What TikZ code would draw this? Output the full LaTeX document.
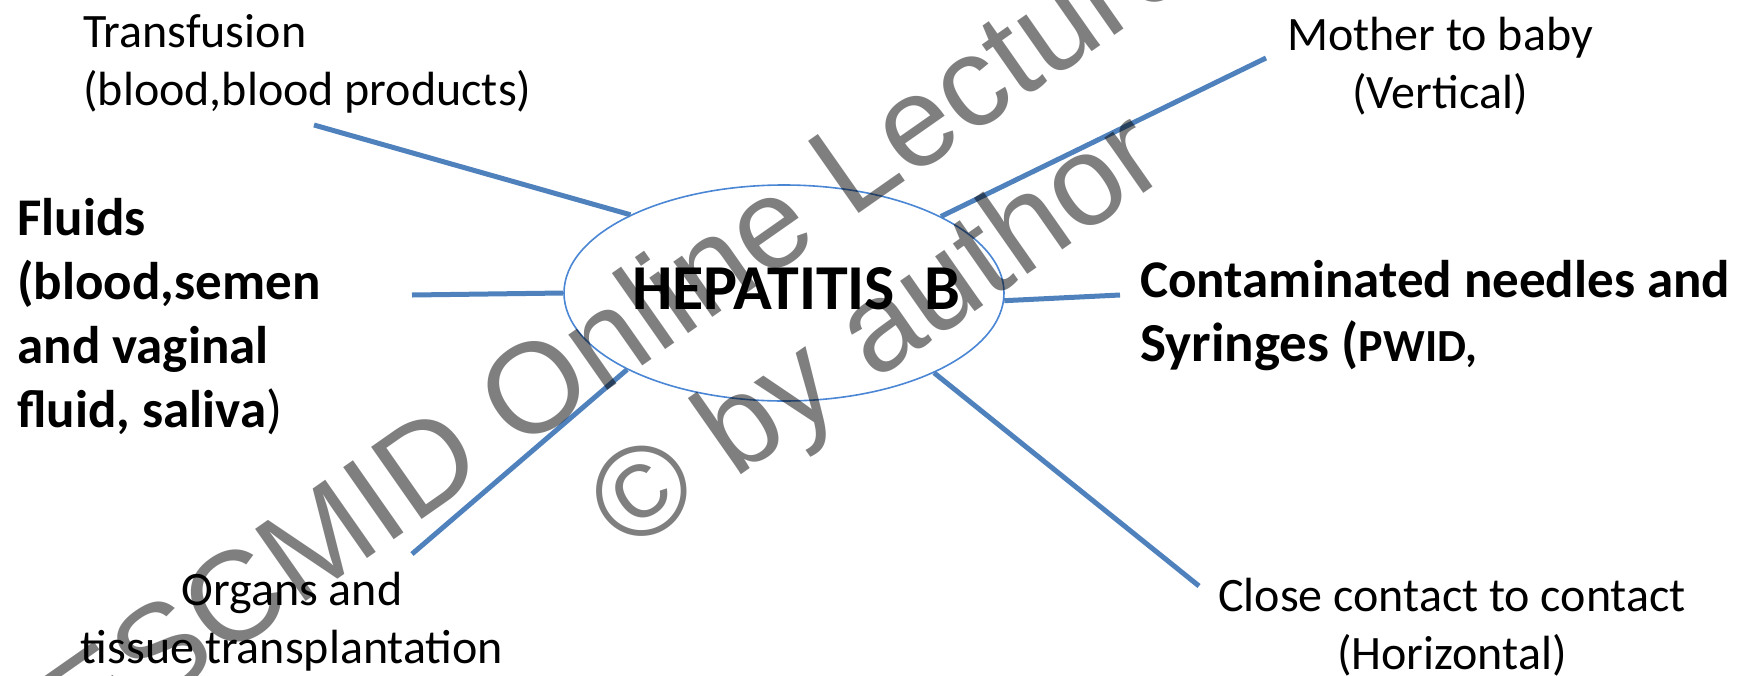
\documentclass[tikz,border=0pt]{standalone}
\usepackage{fontspec}
\setmainfont{Carlito}
\newfontfamily\wmfont{Liberation Sans}
\usetikzlibrary{shapes.geometric}
\definecolor{spoke}{RGB}{79,129,189}
\definecolor{rim}{RGB}{74,134,212}

\begin{document}
\begin{tikzpicture}[x=0.5pt, y=-0.5pt, every node/.style={inner sep=0pt}, plain/.style={font=\fontsize{24}{29}\selectfont}, heavy/.style={font=\fontsize{26.5}{32}\selectfont\bfseries}, spokeline/.style={draw=spoke, line width=2.5pt}]
	\useasboundingbox (0,0) rectangle (1744,675);
	\node[ellipse, draw=rim, line width=0.8pt, minimum width=220pt, minimum height=108pt] (hep) at (784,293) {};
	\node[anchor=base, font=\fontsize{32}{38}\selectfont\bfseries] (heplabel) at (796,309) {HEPATITIS\ \ B};
	\node[plain, anchor=north west, align=left] (trans) at (83,14) {Transfusion\\(blood,blood products)};
	\node[heavy, anchor=north west, align=left] (fluids) at (17,198) {Fluids\\(blood,semen\\and vaginal\\fluid, saliva{\mdseries)}};
	\node[plain, anchor=north, align=center] (mother) at (1440,17) {Mother to baby\\(Vertical)};
	\node[heavy, anchor=north west, align=left] (needles) at (1140,260) {Contaminated needles and\\{\fontsize{27.5}{32}\selectfont Syringes (}{\fontsize{23}{32}\selectfont PWID,}};
	\node[plain, anchor=north, align=center] (close) at (1452,578) {Close contact to contact\\(Horizontal)};
	\node[plain, anchor=north, align=center] (organs) at (292,572) {Organs and\\tissue transplantation};
	\coordinate (e1) at (314,125);
	\coordinate (e2) at (412,295);
	\coordinate (e3) at (1266,58);
	\coordinate (e4) at (1120,295);
	\coordinate (e5) at (1199,586);
	\coordinate (e6) at (412,554);
	\draw[spokeline] (hep.153.7) -- (e1);
	\draw[spokeline] (hep.180) -- (e2);
	\draw[spokeline] (hep.26.3) -- (e3);
	\draw[spokeline] (hep.358.2) -- (e4);
	\draw[spokeline] (hep.332.5) -- (e5);
	\draw[spokeline] (hep.206.7) -- (e6);
	\node[rotate=35, align=center, text=black, text opacity=0.5, font=\wmfont\fontsize{64}{73}\selectfont] (wm) at (839,277) {ESCMID Online Lecture Library\\© by author};
\end{tikzpicture}
\end{document}
